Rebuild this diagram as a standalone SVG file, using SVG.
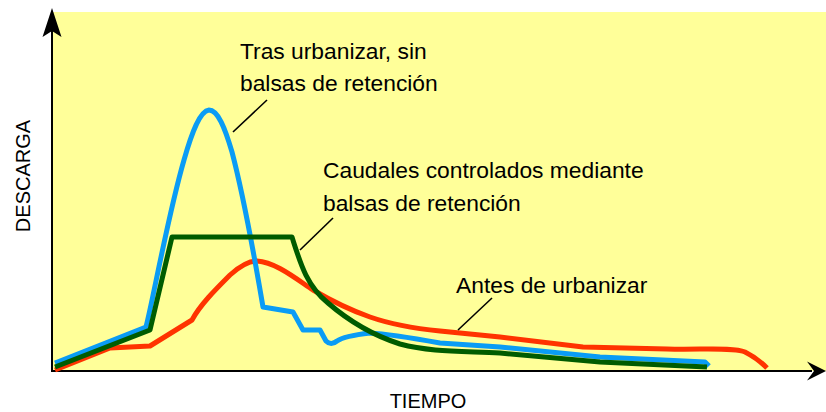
<svg xmlns="http://www.w3.org/2000/svg" width="826" height="412" viewBox="0 0 826 412">
  <defs>
    <style>
      .lbl { font-family: "Liberation Sans", Arial, sans-serif; font-size: 22.8px; fill: #000; }
      .ax { font-family: "Liberation Sans", Arial, sans-serif; font-size: 20px; fill: #000; }
      .curve { fill: none; stroke-width: 5; stroke-linejoin: round; stroke-linecap: butt; }
      .leader { stroke: #000; stroke-width: 1.6; fill: none; }
      .axis { stroke: #000; stroke-width: 2; fill: none; }
    </style>
  </defs>
  <rect x="0" y="0" width="826" height="412" fill="#ffffff"/>
  <rect id="plot-area" x="52" y="12" width="774" height="359" fill="#FFFF99"/>

  <g id="axes">
    <line class="axis" x1="52" y1="372" x2="52" y2="28"/>
    <path d="M52,8 L61.5,37 L52,31 L42.5,37 Z" fill="#000"/>
    <line class="axis" x1="51" y1="371" x2="812" y2="371"/>
    <path d="M826,371 L807,380.5 L814,371 L807,361.5 Z" fill="#000"/>
    <text class="ax" x="428" y="408" text-anchor="middle">TIEMPO</text>
    <text class="ax" transform="translate(30,176) rotate(-90)" text-anchor="middle">DESCARGA</text>
  </g>

  <g id="curves">
    <path id="antes" class="curve" stroke="#FF3300" d="M55,370 L110,348 L150,346 L192,320 C200,305 215,290 230,275 C240,266 250,261 257,261 C275,262 295,278 313,290 C330,300 350,310 370,317 C390,324 410,328 440,331 L500,337 L583,347 L667,349 C700,350 733,347 745,352 C755,357 762,363 767,368"/>
    <path id="sin-balsas" class="curve" stroke="#0A9CF5" d="M55,363 L146,327 C153,300 168,215 184,160 C192,132 200,111 209,110 C218,110 225,128 232,152 C242,190 255,260 263,307 L293,312 L303,330 L320,330 L326,341 Q331,346 337,341 Q344,336 370,333 Q390,334 440,343 L500,347 L600,357 L705,362 L709,366"/>
    <path id="con-balsas" class="curve" stroke="#005C00" stroke-width="5.5" d="M55,367 L150,330 L172,237 L292,237 C300,262 306,285 328,303 C350,322 372,335 400,344 C430,352 460,351 500,353 L600,362 L707,367"/>
  </g>

  <g id="leaders">
    <line class="leader" x1="233" y1="132" x2="267" y2="100"/>
    <line class="leader" x1="300" y1="250" x2="333" y2="218"/>
    <line class="leader" x1="458" y1="330" x2="492" y2="298"/>
  </g>

  <g id="label-sin-balsas">
    <text class="lbl" x="240" y="59">Tras urbanizar, sin</text>
    <text class="lbl" x="240" y="91">balsas de retención</text>
  </g>
  <g id="label-con-balsas">
    <text class="lbl" x="323" y="178">Caudales controlados mediante</text>
    <text class="lbl" x="323" y="211">balsas de retención</text>
  </g>
  <g id="label-antes">
    <text class="lbl" x="456" y="293">Antes de urbanizar</text>
  </g>
</svg>
